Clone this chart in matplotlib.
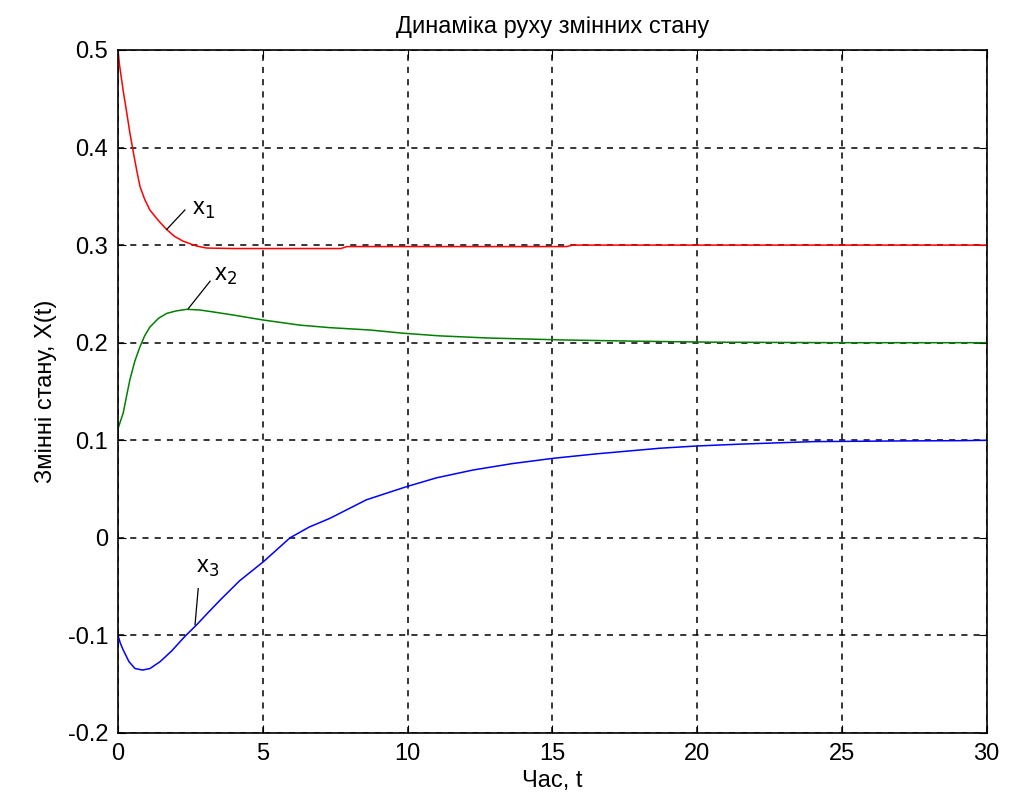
import numpy as np
import matplotlib
matplotlib.use('Agg')
import matplotlib.pyplot as plt

# values
t1 = [0, 0.05, 0.18, 0.3, 0.41, 0.53, 0.65, 0.76, 0.92, 1.1, 1.4, 1.68, 1.95, 2.25, 2.72, 3.06,
      4.0, 7.7, 7.9, 15.5, 15.7, 30]
x1 = [0.5, 0.485, 0.458, 0.436, 0.415, 0.395, 0.376, 0.360, 0.347, 0.336, 0.325, 0.316, 0.309,
      0.304, 0.299, 0.297, 0.2965, 0.2965, 0.2985, 0.2985, 0.3, 0.3]

t2 = [0, 0.0, 0.18, 0.30, 0.41, 0.58, 0.76, 0.92, 1.1, 1.4, 1.68, 2.0, 2.37, 2.83, 3.4, 3.97,
      5.0, 6.28, 7.32, 8.7, 9.85, 11.1, 12.78, 15.37, 18.0, 20.6, 25, 30]
x2 = [0.1, 0.112, 0.128, 0.146, 0.162, 0.181, 0.196, 0.207, 0.216, 0.225, 0.230, 0.2325, 0.2342,
      0.2335, 0.231, 0.2284, 0.2233, 0.218, 0.2154, 0.213, 0.2097, 0.207, 0.2048, 0.2028, 0.2015,
      0.2005, 0.2, 0.2]

t3 = [0, 0.08, 0.18, 0.38, 0.59, 0.85, 1.1, 1.45, 1.85, 2.31, 2.72, 3.1, 3.52, 4.2, 5.02, 5.94,
      6.6, 7.32, 8.58, 9.96, 11.0, 12.26, 13.6, 15.03, 16.5, 18.02, 18.7, 19.97, 21.47, 24.0, 27.0,
      29.18, 30]
x3 = [-0.1, -0.108, -0.115, -0.127, -0.134, -0.1355, -0.134, -0.127, -0.116, -0.101, -0.089,
      -0.077, -0.064, -0.044, -0.0245, 0.0, 0.011, 0.020, 0.039, 0.0524, 0.0615, 0.0695, 0.076,
      0.0815, 0.086, 0.090, 0.0918, 0.0941, 0.096, 0.0986, 0.0993, 0.0996, 0.1]

xticks = [0, 5, 10, 15, 20, 25, 30]
yticks = [-0.2, -0.1, 0, 0.1, 0.2, 0.3, 0.4, 0.5]
ytick_labels = ['-0.2', '-0.1', '0', '0.1', '0.2', '0.3', '0.4', '0.5']

plt.rcParams['font.family'] = ['Liberation Sans', 'DejaVu Sans']
fs = 17

fig = plt.figure(figsize=(10.13, 8.06), dpi=100)
ax = fig.add_axes([0.1165, 0.0906, 0.8575, 0.8474])

ax.plot(t1, x1, color='#ff0000', lw=1.1)
ax.plot(t2, x2, color='#008000', lw=1.1)
ax.plot(t3, x3, color='#0000ff', lw=1.1)

ax.set_xlim(0, 30)
ax.set_ylim(-0.2, 0.5)
ax.set_xticks(xticks)
ax.set_xticklabels([str(v) for v in xticks])
ax.set_yticks(yticks)
ax.set_yticklabels(ytick_labels)
ax.grid(True, color='black', linestyle=(0, (4, 4)), linewidth=1.1)
ax.tick_params(direction='in', length=6, labelsize=fs, top=True, right=True, pad=7)
for s in ax.spines.values():
    s.set_linewidth(1.2)

# curve labels with pointer lines
ax.plot([1.68, 2.31], [0.316, 0.336], color='black', lw=0.9)
ax.text(2.55, 0.336, r'x$_1$', fontsize=fs, va='center', ha='left')
ax.plot([2.43, 3.18], [0.235, 0.263], color='black', lw=0.9)
ax.text(3.3, 0.268, r'x$_2$', fontsize=fs, va='center', ha='left')
ax.plot([2.66, 2.77], [-0.089, -0.052], color='black', lw=0.9)
ax.text(2.7, -0.031, r'x$_3$', fontsize=fs, va='center', ha='left')

ax.set_title('Динаміка руху змінних стану', fontsize=fs, pad=12)
ax.set_xlabel('Час, t', fontsize=fs, labelpad=4)
ax.set_ylabel('Змінні стану, X(t)', fontsize=fs, labelpad=8)

fig.savefig('out.png', dpi=100)
